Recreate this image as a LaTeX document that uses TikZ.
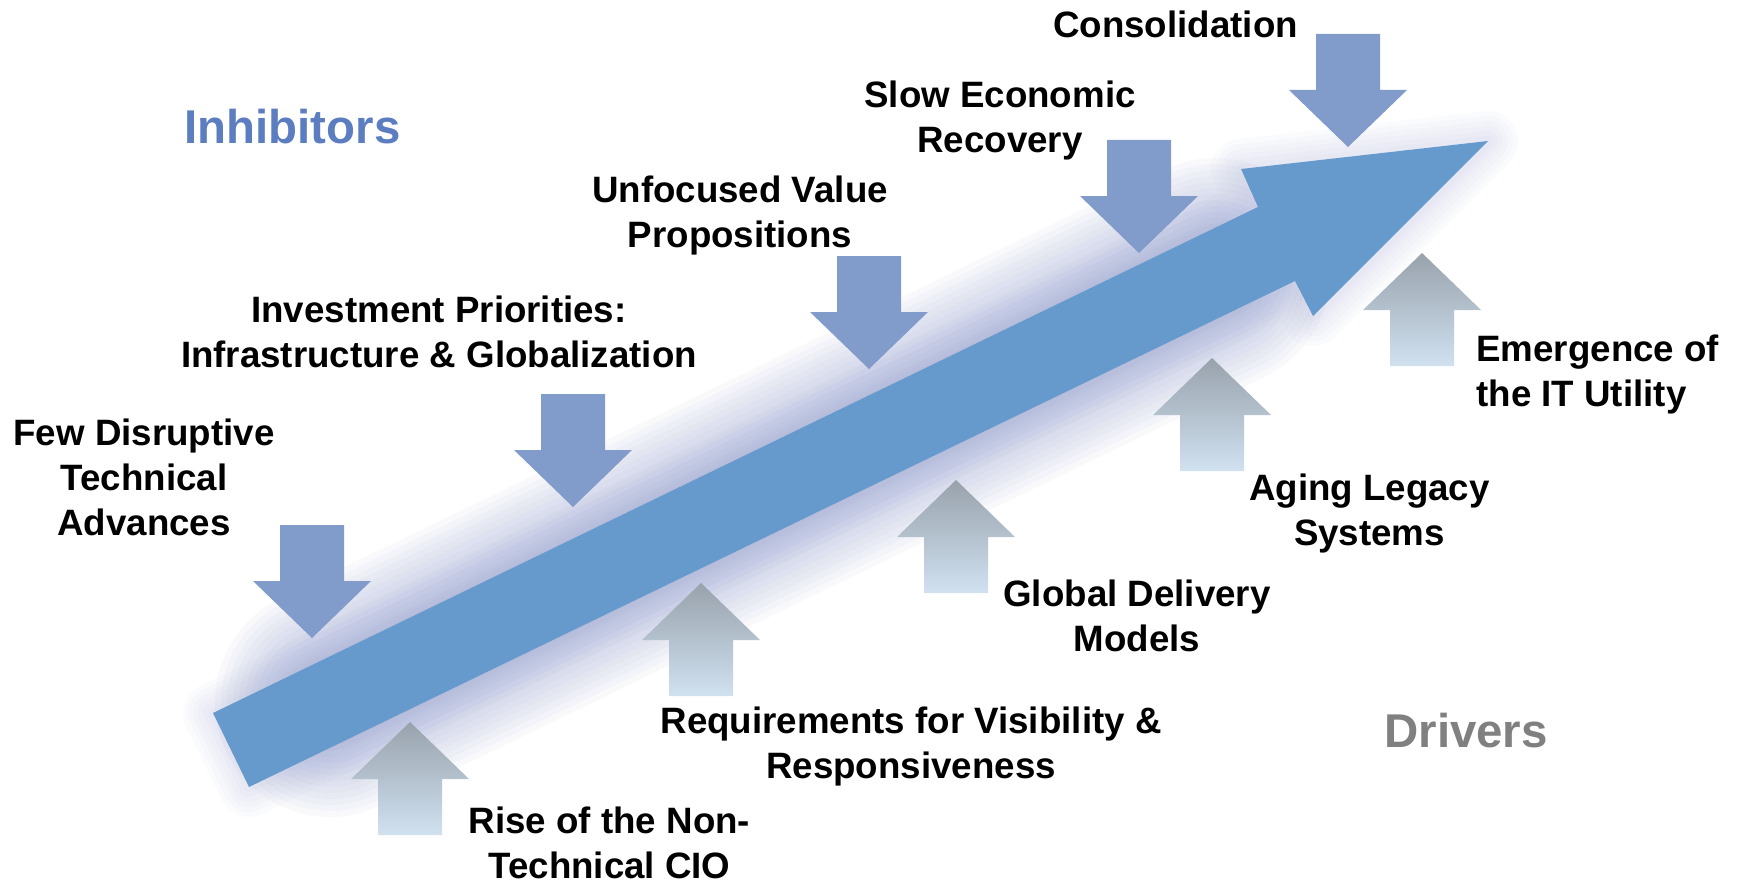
\documentclass[tikz,border=0pt]{standalone}
\usepackage{fontspec}
\setmainfont{Liberation Sans}
\definecolor{inhib}{RGB}{129,155,202}
\definecolor{trend}{RGB}{102,154,204}
\definecolor{drvtop}{RGB}{152,162,172}
\definecolor{drvbot}{RGB}{208,225,240}
\definecolor{inhtxt}{RGB}{92,126,192}
\definecolor{drvtxt}{RGB}{128,128,128}
\definecolor{haze}{RGB}{140,152,205}
\tikzset{
	pics/inh/.style={code={\fill[inhib](0,0)--(59,-57)--(32,-57)--(32,-113)--(-32,-113)--(-32,-57)--(-59,-57)--cycle;}},
	pics/drv/.style={code={\shade[top color=drvtop,bottom color=drvbot](0,0)--(59,57)--(32,57)--(32,113)--(-32,113)--(-32,57)--(-59,57)--cycle;}},
	lbl/.style={font=\fontsize{18.35}{22.5}\selectfont\bfseries,align=center,anchor=base,inner sep=0pt},
	head/.style={font=\fontsize{23.7}{28}\selectfont\bfseries,anchor=base west,inner sep=0pt}
}
\begin{document}
\begin{tikzpicture}[x=0.5pt,y=-0.5pt]
	\useasboundingbox[fill=white](0,0)rectangle(1740,883);
	\coordinate(t1)at(213,713);
	\coordinate(t2)at(249,787);
	\coordinate(n1)at(1258,207);
	\coordinate(n2)at(1295,281);
	\coordinate(b1)at(1241,169);
	\coordinate(b2)at(1313,316);
	\coordinate(tip)at(1488,141);
	\coordinate(m0)at(330,702);
	\coordinate(m1)at(1215,273);
	\foreach \w in {230,218,...,86}
		\draw[haze,line width=\w*0.5pt,opacity=.05,line cap=round](m0)--(m1);
	\foreach \w in {60,50,...,10}
		\draw[haze,line width=\w*0.5pt,opacity=.035,line join=round](t1)--(n1)--(b1)--(tip)--(b2)--(n2)--(t2)--cycle;
	\pic(pfew)at(312,638){inh};
	\pic(pinv)at(573,507){inh};
	\pic(punf)at(869,369){inh};
	\pic(pslow)at(1139,253){inh};
	\pic(pcons)at(1348,147){inh};
	\pic(prise)at(410,722){drv};
	\pic(preq)at(701,583){drv};
	\pic(pglob)at(956,480){drv};
	\pic(paging)at(1212,358){drv};
	\pic(pemer)at(1422,253){drv};
	\fill[trend](t1)--(n1)--(b1)--(tip)--(b2)--(n2)--(t2)--cycle;
	\node(inh)at(184,143)[head,text=inhtxt]{Inhibitors};
	\node(drv)at(1384,747)[head,text=drvtxt]{Drivers};
	\node(few)at(144,535)[lbl]{Few Disruptive\\Technical\\Advances};
	\node(inv)at(439,367)[lbl]{Investment Priorities:\\Infrastructure \& Globalization};
	\node(unf)at(740,247)[lbl]{Unfocused Value\\Propositions};
	\node(slow)at(1000,153)[lbl]{Slow Economic\\Recovery};
	\node(cons)at(1175.5,38)[lbl]{Consolidation};
	\node(rise)at(609.5,878)[lbl]{Rise of the Non-\\Technical CIO};
	\node(req)at(911,778)[lbl]{Requirements for Visibility \&\\Responsiveness};
	\node(glob)at(1137,651)[lbl]{Global Delivery\\Models};
	\node(aging)at(1369.5,545)[lbl]{Aging Legacy\\Systems};
	\node(emer)at(1476,406)[lbl,align=left,anchor=base west]{Emergence of\\the IT Utility};
\end{tikzpicture}
\end{document}
